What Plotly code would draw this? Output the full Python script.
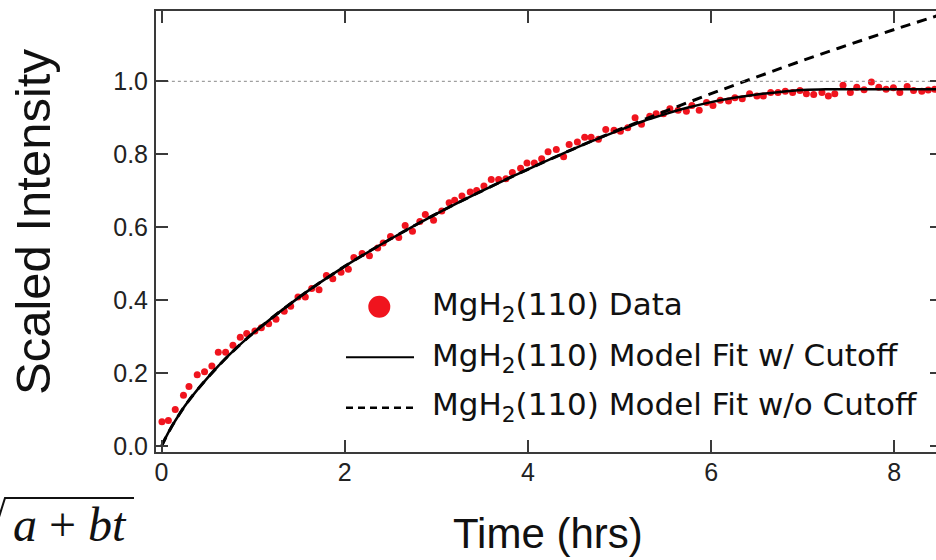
import plotly.graph_objects as go

# ---- data ----
t_data = [0.005, 0.075, 0.15, 0.24, 0.30, 0.39, 0.47, 0.55, 0.62, 0.70, 0.78, 0.86, 0.93,
          1.02, 1.09, 1.17, 1.25, 1.34, 1.41, 1.49, 1.57, 1.64, 1.72, 1.80, 1.87, 1.96,
          2.04, 2.10, 2.19, 2.27, 2.36, 2.42, 2.50, 2.59, 2.66, 2.74, 2.82, 2.88, 2.97,
          3.06, 3.14, 3.20, 3.28, 3.37, 3.44, 3.52, 3.60, 3.68, 3.76, 3.83, 3.92, 3.99,
          4.07, 4.15, 4.22, 4.31, 4.39, 4.45, 4.54, 4.62, 4.69, 4.77, 4.85, 4.94, 5.01,
          5.09, 5.17, 5.24, 5.33, 5.40, 5.48, 5.55, 5.64, 5.73, 5.79, 5.87, 5.95, 6.02,
          6.10, 6.19, 6.26, 6.34, 6.42, 6.50, 6.57, 6.65, 6.73, 6.81, 6.89, 6.97, 7.04,
          7.12, 7.21, 7.28, 7.35, 7.44, 7.52, 7.59, 7.67, 7.75, 7.83, 7.91, 7.99, 8.06,
          8.14, 8.21, 8.30, 8.37, 8.44]
v_data = [0.067, 0.071, 0.101, 0.140, 0.164, 0.196, 0.204, 0.220, 0.258, 0.258, 0.277, 0.299, 0.309,
          0.316, 0.325, 0.336, 0.348, 0.370, 0.384, 0.409, 0.409, 0.432, 0.429, 0.468, 0.459, 0.477,
          0.485, 0.517, 0.528, 0.522, 0.543, 0.557, 0.575, 0.572, 0.605, 0.589, 0.616, 0.635, 0.619,
          0.645, 0.667, 0.674, 0.686, 0.697, 0.701, 0.713, 0.731, 0.731, 0.733, 0.750, 0.762, 0.776,
          0.776, 0.788, 0.807, 0.813, 0.793, 0.827, 0.834, 0.847, 0.847, 0.841, 0.868, 0.866, 0.863,
          0.873, 0.900, 0.882, 0.904, 0.911, 0.911, 0.925, 0.921, 0.918, 0.934, 0.921, 0.942, 0.934,
          0.948, 0.946, 0.955, 0.952, 0.966, 0.960, 0.960, 0.969, 0.969, 0.973, 0.969, 0.975, 0.966,
          0.964, 0.969, 0.960, 0.966, 0.989, 0.969, 0.984, 0.977, 0.998, 0.984, 0.978, 0.982, 0.969,
          0.986, 0.975, 0.973, 0.976, 0.978]

t_nocut = [0, 0.05, 0.1, 0.2, 0.3, 0.5, 0.75, 1, 1.5, 2, 2.5, 3, 3.5, 4, 4.5, 5, 5.5, 6, 6.5,
           7, 7.5, 8, 8.5]
v_nocut = [0.0, 0.026, 0.049, 0.090, 0.126, 0.187, 0.253, 0.310, 0.408, 0.493, 0.568, 0.637,
           0.700, 0.759, 0.815, 0.868, 0.918, 0.966, 1.012, 1.057, 1.100, 1.142, 1.182]

t_cut = [0, 0.05, 0.1, 0.2, 0.3, 0.5, 0.75, 1, 1.5, 2, 2.5, 3, 3.5, 4, 4.5, 5, 5.25, 5.5,
         5.75, 6, 6.25, 6.5, 6.75, 7, 7.25, 7.5, 8, 8.5]
v_cut = [0.0, 0.026, 0.049, 0.090, 0.126, 0.187, 0.253, 0.310, 0.408, 0.493, 0.568, 0.637,
         0.700, 0.759, 0.815, 0.866, 0.890, 0.910, 0.928, 0.943, 0.955, 0.964, 0.971, 0.976,
         0.978, 0.978, 0.978, 0.978]

ref_level = 1.0
x_ticks = [0, 2, 4, 6, 8]
y_ticks = [0.0, 0.2, 0.4, 0.6, 0.8, 1.0]
legend_names = ["MgH<sub>2</sub>(110) Data",
                "MgH<sub>2</sub>(110) Model Fit w/ Cutoff",
                "MgH<sub>2</sub>(110) Model Fit w/o Cutoff"]

# ---- layout geometry ----
W, H = 936, 560
L, R, T, B = 156, 0, 11, 108
PW, PH = W - L - R, H - T - B


def px(xp):
    return (xp - L) / PW


def py(yp):
    return (H - B - yp) / PH


AX = "#3a3a3a"
fig = go.Figure()

fig.add_trace(go.Scatter(x=[-1, 10], y=[ref_level, ref_level], mode="lines", yaxis="y2",
                         line=dict(color="#888888", width=1, dash="dot"),
                         showlegend=False, hoverinfo="skip"))
fig.add_trace(go.Scatter(x=t_data, y=v_data, mode="markers", name=legend_names[0],
                         marker=dict(color="#f0141e", size=7), showlegend=False))
fig.add_trace(go.Scatter(x=t_nocut, y=v_nocut, mode="lines", name=legend_names[2],
                         line=dict(color="black", width=3, dash="10px,7px", shape="spline"),
                         showlegend=False))
fig.add_trace(go.Scatter(x=t_cut, y=v_cut, mode="lines", name=legend_names[1],
                         line=dict(color="black", width=2.5, shape="spline"),
                         showlegend=False))

tickfont = dict(family="Liberation Sans, Arial, sans-serif", size=25, color="#222")
fig.update_layout(
    width=W, height=H, margin=dict(l=L, r=R, t=T, b=B, autoexpand=False),
    paper_bgcolor="white", plot_bgcolor="white",
    xaxis=dict(range=[-0.06, 8.455], tickvals=x_ticks, ticks="inside", ticklen=12, tickwidth=2,
               tickcolor=AX, showline=True, linecolor=AX, linewidth=2, mirror="ticks",
               showgrid=False, zeroline=False, tickfont=tickfont, ticklabelstandoff=-3),
    yaxis=dict(range=[-0.0156, 1.1926], tickvals=y_ticks, tickformat=".1f", ticks="inside",
               ticklen=12, tickwidth=2, tickcolor=AX, showline=True, linecolor=AX, linewidth=2,
               showgrid=False, zeroline=False, tickfont=tickfont, ticklabelstandoff=1),
    yaxis2=dict(range=[-0.0156, 1.1926], overlaying="y", side="right", tickvals=y_ticks,
                ticks="inside", ticklen=6, tickwidth=2, tickcolor=AX, showline=False,
                showticklabels=False, showgrid=False, zeroline=False),
)

ann = []
# axis titles
ann.append(dict(text="Time (hrs)", xref="paper", yref="paper", x=px(548), y=py(533),
                xanchor="center", yanchor="middle", showarrow=False,
                font=dict(family="Liberation Sans, Arial, sans-serif", size=42, color="#111")))
ann.append(dict(text="Scaled Intensity", xref="paper", yref="paper", x=px(33), y=py(222),
                xanchor="center", yanchor="middle", showarrow=False, textangle=-90,
                font=dict(family="Liberation Sans, Arial, sans-serif", size=49, color="#111")))
# manual legend
leg_font = dict(family="DejaVu Sans, sans-serif", size=31, color="#111")
for name, yy in zip(legend_names, [306, 357, 406]):
    ann.append(dict(text=name, xref="paper", yref="paper", x=px(430), y=py(yy),
                    xanchor="left", yanchor="middle", showarrow=False, font=leg_font))
# formula fragment
ann.append(dict(text="<i>a</i> + <i>bt</i>", xref="paper", yref="paper", x=px(11), y=py(524),
                xanchor="left", yanchor="middle", showarrow=False,
                font=dict(family="Liberation Serif, Times New Roman, serif", size=48, color="#111")))
fig.update_layout(annotations=ann)

shapes = [
    dict(type="circle", xref="paper", yref="paper", x0=px(368.3), x1=px(390.3),
         y0=py(317.7), y1=py(295.7), fillcolor="#f0141e", line=dict(width=0)),
    dict(type="line", xref="paper", yref="paper", x0=px(346), x1=px(414), y0=py(357.3),
         y1=py(357.3), line=dict(color="black", width=2)),
    dict(type="line", xref="paper", yref="paper", x0=px(346), x1=px(414), y0=py(407.7),
         y1=py(407.7), line=dict(color="black", width=2.5, dash="7px,5px")),
    dict(type="path", xref="paper", yref="paper",
         path=f"M {px(-1)},{py(517)} L {px(5)},{py(498)} L {px(134)},{py(498)}",
         line=dict(color="#111", width=2)),
]
fig.update_layout(shapes=shapes)

fig.write_html("out.html")
